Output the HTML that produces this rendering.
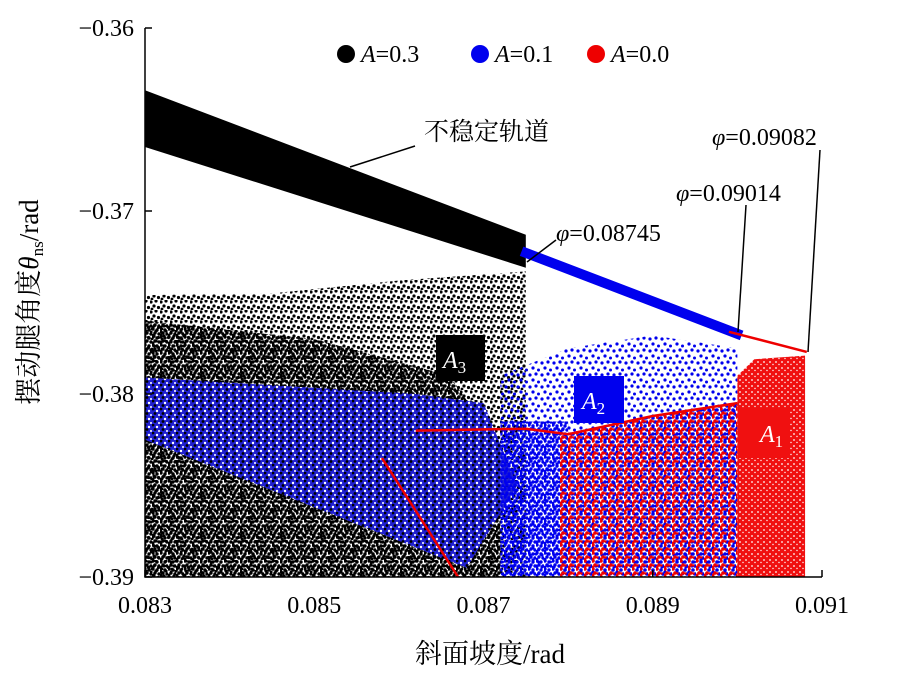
<!DOCTYPE html>
<html><head><meta charset="utf-8"><style>
html,body{margin:0;padding:0;background:#fff;}
svg text{font-family:"Liberation Serif","Noto Serif CJK SC",serif;}
</style></head><body>
<svg id="chart" width="917" height="678" viewBox="0 0 917 678" xmlns="http://www.w3.org/2000/svg">
<defs>
<pattern id="pBlack" width="10" height="10" patternUnits="userSpaceOnUse">
<circle cx="1" cy="2" r="1.6" fill="#000"/><circle cx="6" cy="1" r="1.6" fill="#000"/><circle cx="4" cy="6" r="1.6" fill="#000"/><circle cx="8.5" cy="7.5" r="1.6" fill="#000"/><circle cx="2" cy="9" r="1.4" fill="#000"/></pattern>
<pattern id="pBlackDense" width="8" height="8" patternUnits="userSpaceOnUse">
<circle cx="1" cy="1" r="1.7" fill="#000"/><circle cx="5" cy="2" r="1.7" fill="#000"/><circle cx="3" cy="5" r="1.7" fill="#000"/><circle cx="7" cy="6" r="1.7" fill="#000"/><circle cx="1" cy="7" r="1.5" fill="#000"/></pattern>
<pattern id="pBlueBlack" width="8" height="8" patternUnits="userSpaceOnUse">
<rect width="8" height="8" fill="#2020d0"/><circle cx="1" cy="1" r="1.4" fill="#000"/><circle cx="5" cy="3" r="1.2" fill="#fff"/><circle cx="3" cy="5.5" r="1.4" fill="#000"/><circle cx="7" cy="7" r="1" fill="#fff"/></pattern>
<pattern id="pBlue" width="8" height="8" patternUnits="userSpaceOnUse">
<circle cx="1" cy="1" r="1.7" fill="#0000ee"/><circle cx="5" cy="2" r="1.7" fill="#0000ee"/><circle cx="3" cy="5" r="1.7" fill="#0000ee"/><circle cx="7" cy="6" r="1.7" fill="#0000ee"/><circle cx="1" cy="7" r="1.4" fill="#0000ee"/></pattern>
<pattern id="pBlueSparse" width="12" height="12" patternUnits="userSpaceOnUse">
<circle cx="2" cy="3" r="1.6" fill="#0000ee"/><circle cx="8" cy="2" r="1.6" fill="#0000ee"/><circle cx="5" cy="8" r="1.6" fill="#0000ee"/><circle cx="10.5" cy="10" r="1.5" fill="#0000ee"/></pattern>
<pattern id="pBlueRed" width="8" height="8" patternUnits="userSpaceOnUse">
<circle cx="1" cy="1" r="1.8" fill="#ee0000"/><circle cx="5" cy="2" r="1.8" fill="#0000ee"/><circle cx="3" cy="5" r="1.8" fill="#ee0000"/><circle cx="7" cy="6" r="1.8" fill="#0000ee"/><circle cx="1" cy="7" r="1.5" fill="#ee0000"/><circle cx="5.5" cy="5.5" r="1.2" fill="#ee0000"/></pattern>
<pattern id="pRed" width="6" height="6" patternUnits="userSpaceOnUse">
<rect width="6" height="6" fill="#f01010"/><circle cx="2" cy="2" r="0.9" fill="#fff"/><circle cx="5" cy="4.5" r="0.7" fill="#fff"/></pattern>
<clipPath id="plotClip"><rect x="145" y="28" width="677" height="549"/></clipPath>
</defs>
<g id="marks" clip-path="url(#plotClip)"></g>
<g id="axes"></g>
<g id="labels"></g>
</svg>
<script>
// axis domains
const xDomain = [0.083, 0.091];
const yDomain = [-0.39, -0.36];
const xTicks = [0.083, 0.085, 0.087, 0.089, 0.091];
const xTickLabels = ["0.083", "0.085", "0.087", "0.089", "0.091"];
const yTicks = [-0.36, -0.37, -0.38, -0.39];
const yTickLabels = ["\u22120.36", "\u22120.37", "\u22120.38", "\u22120.39"];
// unstable orbit band (A=0.3): x, upper, lower
const bandX = [0.083, 0.0875];
const bandTop = [-0.3634, -0.3713];
const bandBot = [-0.3665, -0.3731];
// stable period-1 orbit A=0.1 (blue) and A=0.0 (red)
const blueLineX = [0.08745, 0.09005];
const blueLineY = [-0.3722, -0.3768];
const redLineX = [0.0899, 0.09082];
const redLineY = [-0.3766, -0.3777];
// chaotic attractor envelopes (x, y pairs)
const blackCloudX = [0.083, 0.0845, 0.0860, 0.0875, 0.0875, 0.083];
const blackCloudY = [-0.3746, -0.3745, -0.3738, -0.3733, -0.390, -0.390];
const blackDenseX = [0.083, 0.0850, 0.0866, 0.0872, 0.0872, 0.083];
const blackDenseY = [-0.3760, -0.3770, -0.3790, -0.3830, -0.390, -0.390];
const blueFanX = [0.083, 0.0862, 0.0870, 0.0874, 0.0868, 0.083];
const blueFanY = [-0.3791, -0.3800, -0.3805, -0.3850, -0.3895, -0.3825];
const blueCloudX = [0.0872, 0.0880, 0.0890, 0.0900, 0.0900, 0.0872];
const blueCloudY = [-0.3790, -0.3775, -0.3768, -0.3775, -0.390, -0.390];
const blueCoreX = [0.0872, 0.0880, 0.0880, 0.0872];
const blueCoreY = [-0.3815, -0.3815, -0.390, -0.390];
const mixCloudX = [0.0879, 0.0893, 0.0900, 0.0900, 0.0879];
const mixCloudY = [-0.3822, -0.3810, -0.3805, -0.390, -0.390];
const redBlockX = [0.0900, 0.0902, 0.0908, 0.0908, 0.0900];
const redBlockY = [-0.3790, -0.3781, -0.3779, -0.390, -0.390];
const redCurveX = [0.0862, 0.0875, 0.0880, 0.0890, 0.0900];
const redCurveY = [-0.3820, -0.3819, -0.3822, -0.3812, -0.3805];
const redDiagX = [0.0858, 0.0867];
const redDiagY = [-0.3835, -0.3900];
// legend
const legendLabels = ["0.3", "0.1", "0.0"];
const legendColors = ["#000", "#0000ee", "#ee0000"];

const NS = "http://www.w3.org/2000/svg";
const X0 = 145, X1 = 822, Y0 = 577, Y1 = 28;
function sx(v){ return X0 + (v - xDomain[0]) / (xDomain[1] - xDomain[0]) * (X1 - X0); }
function sy(v){ return Y0 - (v - yDomain[0]) / (yDomain[1] - yDomain[0]) * (Y0 - Y1); }
function mk(tag, attrs, parent){ const e = document.createElementNS(NS, tag); for (const k in attrs) e.setAttribute(k, attrs[k]); parent.appendChild(e); return e; }
const marks = document.getElementById('marks');
const axes = document.getElementById('axes');
const labels = document.getElementById('labels');
function poly(xs, ys){ return xs.map((x,i)=>sx(x)+','+sy(ys[i])).join(' '); }

let p;
p = mk('polygon', {points: poly(blackCloudX, blackCloudY), fill: 'url(#pBlack)'}, marks);


p = mk('polygon', {points: poly(blackDenseX, blackDenseY), fill: 'url(#pBlackDense)'}, marks);


p = mk('polygon', {points: poly(blueFanX, blueFanY), fill: 'url(#pBlueBlack)'}, marks);


p = mk('polygon', {points: poly(blueCloudX, blueCloudY), fill: 'url(#pBlueSparse)'}, marks);


p = mk('polygon', {points: poly(blueCoreX, blueCoreY), fill: 'url(#pBlue)'}, marks);


p = mk('polygon', {points: poly(mixCloudX, mixCloudY), fill: 'url(#pBlueRed)'}, marks);


p = mk('polygon', {points: poly(redBlockX, redBlockY), fill: 'url(#pRed)'}, marks);


p = mk('polyline', {points: poly(redCurveX, redCurveY), fill: 'none', stroke: '#ee0000', 'stroke-width': 2.5}, marks);


p = mk('polyline', {points: poly(redDiagX, redDiagY), fill: 'none', stroke: '#ee0000', 'stroke-width': 2.5}, marks);


p = mk('polygon', {points: poly([bandX[0], bandX[1], bandX[1], bandX[0]], [bandTop[0], bandTop[1], bandBot[1], bandBot[0]]), fill: '#000'}, marks);


p = mk('polyline', {points: poly(blueLineX, blueLineY), fill: 'none', stroke: '#0000ee', 'stroke-width': 10}, marks);


p = mk('polyline', {points: poly(redLineX, redLineY), fill: 'none', stroke: '#ee0000', 'stroke-width': 2.5}, marks);



p = mk('path', {d: `M${X0},${Y1}V${Y0}H${X1}`, fill: 'none', stroke: '#000', 'stroke-width': 1.5}, axes);


xTicks.forEach((t,i)=>{
  const l = mk('line', {x1: sx(t), x2: sx(t), y1: Y0, y2: Y0-7, stroke: '#000', 'stroke-width': 1.5}, axes);
  
  
  const tx = mk('text', {x: sx(t), y: 613, 'font-size': 24, 'text-anchor': 'middle'}, axes);
  tx.textContent = xTickLabels[i];
  
  
});
yTicks.forEach((t,i)=>{
  const l = mk('line', {x1: X0, x2: X0+7, y1: sy(t), y2: sy(t), stroke: '#000', 'stroke-width': 1.5}, axes);
  
  
  const tx = mk('text', {x: 134, y: sy(t)+8, 'font-size': 24, 'text-anchor': 'end'}, axes);
  tx.textContent = yTickLabels[i];
  
  
});
const legX = [346, 480, 596];
legendLabels.forEach((lab,i)=>{
  const c = mk('circle', {cx: legX[i], cy: 54, r: 9, fill: legendColors[i]}, labels);
  
  
  const t = mk('text', {x: legX[i]+15, y: 62, 'font-size': 24}, labels);
  t.innerHTML = '<tspan font-style="italic">A</tspan>=' + lab;
  
  
});
</script>
<svg style="position:absolute;left:0;top:0" width="917" height="678">
<g><rect x="436" y="335" width="49" height="46" fill="#000"/><text x="443" y="368" font-size="24" fill="#fff" font-style="italic" font-family="Liberation Serif,serif">A<tspan font-style="normal" font-size="17" dy="5">3</tspan></text></g>
<g><rect x="574" y="376" width="50" height="47" fill="#0000ee"/><text x="582" y="409" font-size="24" fill="#fff" font-style="italic" font-family="Liberation Serif,serif">A<tspan font-style="normal" font-size="17" dy="5">2</tspan></text></g>
<g><rect x="738" y="408" width="52" height="50" fill="#f01010"/><text x="760" y="442" font-size="24" fill="#fff" font-style="italic" font-family="Liberation Serif,serif">A<tspan font-style="normal" font-size="17" dy="5">1</tspan></text></g>
<line x1="415" y1="146" x2="350" y2="167" stroke="#000" stroke-width="1.5"/>
<text x="424" y="140" font-size="25" font-family="Liberation Sans,Noto Sans CJK SC,sans-serif">不稳定轨道</text>
<line x1="556" y1="240" x2="527" y2="262" stroke="#000" stroke-width="1.5"/>
<text x="556" y="241" font-size="24" font-family="Liberation Serif,serif"><tspan font-style="italic">φ</tspan>=0.08745</text>
<line x1="746" y1="205" x2="738" y2="332" stroke="#000" stroke-width="1.5"/>
<text x="676" y="201" font-size="24" font-family="Liberation Serif,serif"><tspan font-style="italic">φ</tspan>=0.09014</text>
<line x1="820" y1="150" x2="808" y2="352" stroke="#000" stroke-width="1.5"/>
<text x="712" y="145" font-size="24" font-family="Liberation Serif,serif"><tspan font-style="italic">φ</tspan>=0.09082</text>
<text x="490" y="663" font-size="27" text-anchor="middle" font-family="Liberation Serif,Noto Serif CJK SC,serif">斜面坡度/rad</text>
<text transform="translate(38,302) rotate(-90)" font-size="27" text-anchor="middle" font-family="Liberation Serif,Noto Serif CJK SC,serif">摆动腿角度<tspan font-style="italic">θ</tspan><tspan font-size="17" dy="5">ns</tspan><tspan dy="-5">/rad</tspan></text>
</svg>
</body></html>
